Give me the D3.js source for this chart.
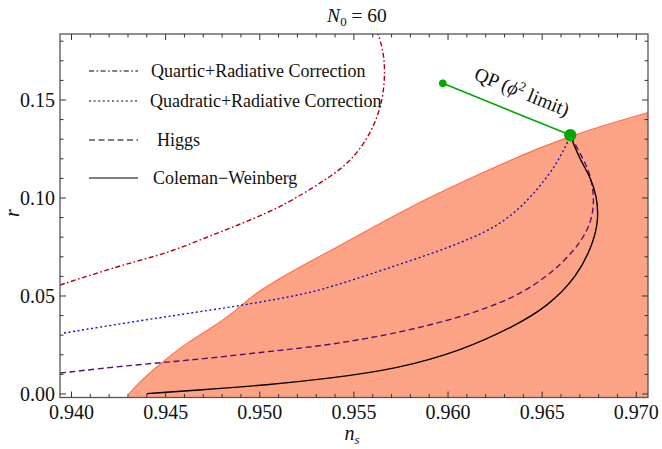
<!DOCTYPE html>
<html>
  <head>
    <meta charset="utf-8">
    <title>N0 = 60</title>
    <style>
      body { margin: 0; background: white; }
      text { font-family: "Liberation Serif", "Times New Roman", serif; fill: #111; }
    </style>
  </head>
  <body>
    <div id="chart"></div>
    <script src="https://d3js.org/d3.v7.min.js"></script>
    <script>
      // data: [n_s, r]
      var planckEdge = [[0.94300,-0.003],[0.94300,-0.0005],[0.94346,0.0046],[0.94453,0.0139],[0.94541,0.0208],
        [0.94612,0.0259],[0.94752,0.0343],[0.94858,0.0413],[0.94964,0.0505],[0.95092,0.0582],[0.95230,0.0658],
        [0.95374,0.0730],[0.95623,0.0862],[0.95868,0.0990],[0.96293,0.1179],[0.96649,0.1321],[0.97074,0.1439],
        [0.9720,0.1470],[0.9720,-0.003]];
      var quartic = [[0.93939,0.0556],[0.94151,0.0622],[0.94327,0.0673],[0.94507,0.0719],[0.94683,0.0786],
        [0.94858,0.0852],[0.95039,0.0923],[0.95177,0.0990],[0.95374,0.1107],[0.95491,0.1194],[0.95597,0.1337],
        [0.95655,0.1500],[0.95666,0.1653],[0.95655,0.1755],[0.95629,0.1837],[0.95610,0.1880]];
      var quadratic = [[0.93960,0.0311],[0.94327,0.0369],[0.94683,0.0420],[0.94948,0.0459],[0.95214,0.0505],
        [0.95374,0.0544],[0.95655,0.0633],[0.96011,0.0748],[0.96261,0.0850],[0.96420,0.0980],
        [0.96543,0.1126],[0.96596,0.1211],[0.96633,0.1279],[0.96649,0.1321]];
      var higgs = [[0.93939,0.0107],[0.94327,0.0148],[0.94683,0.0177],[0.95039,0.0216],[0.95374,0.0250],
        [0.95730,0.0310],[0.96080,0.0394],[0.96346,0.0488],[0.96527,0.0598],[0.96665,0.0724],[0.96745,0.0837],
        [0.96773,0.0939],[0.96773,0.1024],[0.96755,0.1126],[0.96702,0.1228],[0.96658,0.1305],[0.96649,0.1321]];
      var coleman = [[0.94400,0.0002],[0.94683,0.0020],[0.95039,0.0046],[0.95374,0.0080],[0.95730,0.0128],
        [0.96080,0.0224],[0.96346,0.0343],[0.96527,0.0445],[0.96686,0.0598],[0.96771,0.0769],[0.96799,0.0888],
        [0.96791,0.1007],[0.96755,0.1109],[0.96702,0.1194],[0.96658,0.1296],[0.96649,0.1321]];
      var qpLine = [[0.95972,0.1585],[0.96649,0.1321]];
      var xTicks = [0.940,0.945,0.950,0.955,0.960,0.965,0.970];
      var yTicks = [0.00,0.05,0.10,0.15];
      var legendNames = ["Quartic+Radiative Correction","Quadratic+Radiative Correction","Higgs","Coleman\u2212Weinberg"];

      var W = 662, H = 449;
      var pL = 60, pR = 648, pT = 34, pB = 397.5;

      var x = d3.scaleLinear().domain([0.93939, 0.97062]).range([pL, pR]);
      var y = d3.scaleLinear().domain([-0.00179, 0.18367]).range([pB, pT]);

      var svg = d3.select("#chart").append("svg")
        .attr("width", W).attr("height", H);

      svg.append("clipPath").attr("id", "clip")
        .append("rect").attr("x", pL).attr("y", pT)
        .attr("width", pR - pL).attr("height", pB - pT);

      var plot = svg.append("g").attr("clip-path", "url(#clip)");

      var line = d3.line().x(function(d){ return x(d[0]); }).y(function(d){ return y(d[1]); })
        .curve(d3.curveBasis);
      var straight = d3.line().x(function(d){ return x(d[0]); }).y(function(d){ return y(d[1]); });

      plot.append("path").datum(planckEdge)
        .attr("d", line)
        .attr("fill", "#fca385")
        .attr("stroke", "none");
      plot.append("path").datum(planckEdge.slice(1, planckEdge.length - 2))
        .attr("d", line)
        .attr("fill", "none")
        .attr("stroke", "#ff6f4f")
        .attr("stroke-width", 1.1);

      var styles = [
        {data: quartic, color: "#b00010", dash: "5,2.5,1.6,2.5"},
        {data: quadratic, color: "#1010c8", dash: "2,2.6"},
        {data: higgs, color: "#5a1070", dash: "6,3.5"},
        {data: coleman, color: "#000000", dash: null}
      ];
      styles.forEach(function(s){
        plot.append("path").datum(s.data)
          .attr("d", line)
          .attr("fill", "none")
          .attr("stroke", s.color)
          .attr("stroke-width", 1.4)
          .attr("stroke-dasharray", s.dash);
      });

      // QP line and points
      plot.append("path").datum(qpLine)
        .attr("d", straight)
        .attr("stroke", "#00a800").attr("stroke-width", 1.6).attr("fill", "none");
      plot.append("circle").attr("cx", x(qpLine[0][0])).attr("cy", y(qpLine[0][1]))
        .attr("r", 3.8).attr("fill", "#00a800");
      plot.append("circle").attr("cx", x(qpLine[1][0])).attr("cy", y(qpLine[1][1]))
        .attr("r", 6.2).attr("fill", "#00a800");

      var qp = svg.append("text")
        .attr("transform", "translate(473,79) rotate(22)")
        .style("font-size", "19.5px");
      qp.append("tspan").text("QP (");
      qp.append("tspan").style("font-style", "italic").text("\u03d5");
      qp.append("tspan").attr("dy", -7).style("font-size", "13px").text("2");
      qp.append("tspan").attr("dy", 7).text(" limit)");

      // frame
      svg.append("rect").attr("x", pL).attr("y", pT)
        .attr("width", pR - pL).attr("height", pB - pT)
        .attr("fill", "none").attr("stroke", "#555").attr("stroke-width", 1.3);

      // ticks
      var xMinor = d3.range(0.940, 0.9705, 0.001);
      var yMinor = d3.range(0, 0.1835, 0.01);
      var tk = svg.append("g").attr("stroke", "#333").attr("stroke-width", 1);
      xMinor.forEach(function(v){
        var major = xTicks.some(function(t){ return Math.abs(t - v) < 1e-6; });
        var len = major ? 6 : 3.5;
        tk.append("line").attr("x1", x(v)).attr("x2", x(v)).attr("y1", pB).attr("y2", pB - len);
        tk.append("line").attr("x1", x(v)).attr("x2", x(v)).attr("y1", pT).attr("y2", pT + len);
      });
      yMinor.forEach(function(v){
        var major = yTicks.some(function(t){ return Math.abs(t - v) < 1e-6; });
        var len = major ? 6 : 3.5;
        tk.append("line").attr("y1", y(v)).attr("y2", y(v)).attr("x1", pL).attr("x2", pL + len);
        tk.append("line").attr("y1", y(v)).attr("y2", y(v)).attr("x1", pR).attr("x2", pR - len);
      });

      svg.selectAll(".xl").data(xTicks).enter().append("text")
        .attr("x", function(d){ return x(d); }).attr("y", 419)
        .attr("text-anchor", "middle").style("font-size", "20px")
        .text(function(d){ return d3.format(".3f")(d); });
      svg.selectAll(".yl").data(yTicks).enter().append("text")
        .attr("x", 55).attr("y", function(d){ return y(d) + 7; })
        .attr("text-anchor", "end").style("font-size", "20px")
        .text(function(d){ return d3.format(".2f")(d); });

      // axis labels and title
      var xl = svg.append("text").attr("x", 352).attr("y", 440).attr("text-anchor", "middle")
        .style("font-size", "20px");
      xl.append("tspan").style("font-style", "italic").text("n");
      xl.append("tspan").attr("dy", 4).style("font-size", "13px").style("font-style", "italic").text("s");

      svg.append("text").attr("transform", "translate(19,213) rotate(-90)")
        .attr("text-anchor", "middle").style("font-size", "20px").style("font-style", "italic").text("r");

      var title = svg.append("text").attr("x", 357).attr("y", 22).attr("text-anchor", "middle")
        .style("font-size", "19.5px");
      title.append("tspan").style("font-style", "italic").text("N");
      title.append("tspan").attr("dy", 4).style("font-size", "13px").text("0");
      title.append("tspan").attr("dy", -4).text(" = 60");

      // legend
      var legendY = [71, 101, 140, 178];
      var legendX = [151, 150, 157, 153];
      var lg = svg.append("g");
      styles.forEach(function(s, i){
        lg.append("line").attr("x1", 89).attr("x2", 138)
          .attr("y1", legendY[i]).attr("y2", legendY[i])
          .attr("stroke", "#000").attr("stroke-width", 1.2)
          .attr("stroke-dasharray", s.dash);
        lg.append("text").attr("x", legendX[i]).attr("y", legendY[i] + 6)
          .style("font-size", "18px").text(legendNames[i]);
      });
    </script>
  </body>
</html>
